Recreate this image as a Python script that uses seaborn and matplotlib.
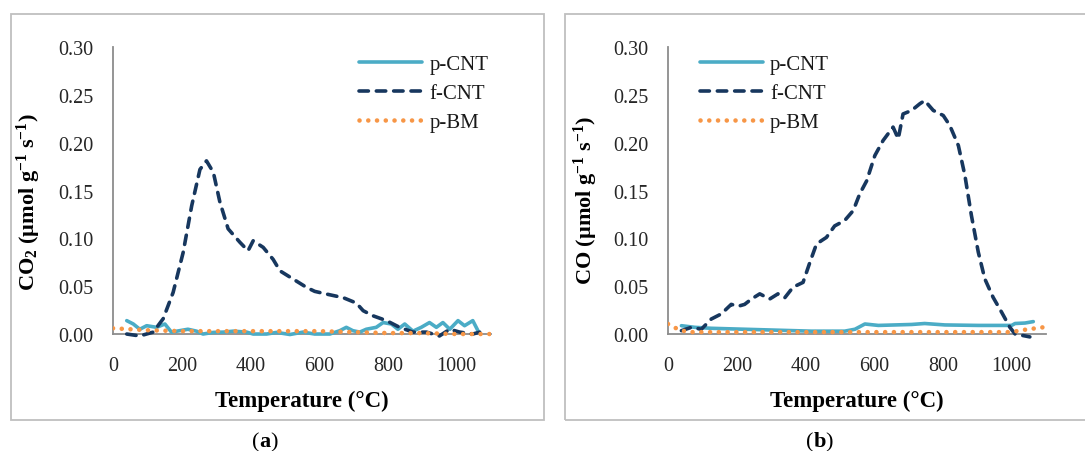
import numpy as np
import pandas as pd
import matplotlib
matplotlib.use("Agg")
import matplotlib.pyplot as plt
import seaborn as sns
from matplotlib.patches import Rectangle

# ---------------- data ----------------
# Panel (a) CO2
a_fcnt_T = [40, 78, 117, 146, 175, 204, 229, 253, 272, 292, 311, 335, 369, 393, 408, 437, 466, 486, 524,
            563, 587, 621, 670, 708, 728, 757, 796, 834, 873, 912, 950, 980, 1009, 1047, 1067]
a_fcnt_v = [0.0, -0.002, 0.002, 0.016, 0.0435, 0.085, 0.134, 0.172, 0.181, 0.169, 0.138, 0.110, 0.096, 0.087,
            0.0975, 0.0906, 0.078, 0.066, 0.0575, 0.0488, 0.0446, 0.0418, 0.038, 0.0324, 0.0244, 0.019, 0.014,
            0.007, 0.002, 0.002, -0.002, 0.005, 0.002, 0.0, 0.002]
a_pcnt_T = [40, 59, 78, 98, 127, 151, 170, 194, 218, 243, 262, 292, 321, 350, 389, 408, 447, 476, 515, 553,
            587, 611, 631, 660, 679, 698, 718, 737, 766, 786, 810, 829, 849, 873, 897, 921, 941, 960, 980,
            1004, 1023, 1047, 1062]
a_pcnt_v = [0.014, 0.0105, 0.005, 0.0087, 0.007, 0.0105, 0.002, 0.0035, 0.005, 0.003, 0.0, 0.0017, 0.002,
            0.003, 0.002, 0.0, 0.0, 0.0017, -0.0005, 0.002, 0.0, 0.0, 0.0, 0.0035, 0.007, 0.0035, 0.002, 0.005,
            0.007, 0.012, 0.0105, 0.005, 0.0105, 0.003, 0.007, 0.012, 0.007, 0.012, 0.005, 0.014, 0.0087,
            0.014, 0.0035]
a_pbm_T = [0, 50, 100, 200, 300, 400, 500, 600, 700, 800, 900, 1000, 1100]
a_pbm_v = [0.006, 0.005, 0.004, 0.003, 0.003, 0.003, 0.003, 0.003, 0.002, 0.001, 0.001, 0.0, 0.0]

# Panel (b) CO
b_fcnt_T = [39, 68, 97, 126, 155, 184, 204, 223, 243, 267, 296, 320, 340, 364, 393, 413, 432, 447, 461, 485,
            514, 539, 558, 578, 602, 626, 655, 670, 684, 709, 733, 747, 772, 801, 820, 845, 864, 883, 903,
            922, 946, 971, 995, 1010, 1039, 1053]
b_fcnt_v = [0.0035, 0.007, 0.005, 0.0157, 0.021, 0.031, 0.029, 0.031, 0.0366, 0.042, 0.0366, 0.042, 0.038,
            0.049, 0.054, 0.075, 0.094, 0.0977, 0.101, 0.113, 0.1186, 0.129, 0.1465, 0.160, 0.1866, 0.2023,
            0.2163, 0.204, 0.230, 0.2337, 0.2407, 0.244, 0.2337, 0.2284, 0.218, 0.197, 0.1657, 0.1238, 0.0855,
            0.0576, 0.0384, 0.0227, 0.007, 0.0, -0.002, -0.003]
b_pcnt_T = [39, 78, 126, 223, 320, 417, 514, 544, 573, 612, 709, 747, 806, 903, 1000, 1010, 1039, 1063]
b_pcnt_v = [0.0087, 0.007, 0.006, 0.005, 0.004, 0.003, 0.003, 0.005, 0.0105, 0.009, 0.010, 0.011, 0.0095,
            0.009, 0.009, 0.011, 0.0115, 0.013]
b_pbm_T = [0, 29, 58, 200, 400, 600, 800, 1000, 1029, 1097]
b_pbm_v = [0.0105, 0.005, 0.002, 0.002, 0.002, 0.002, 0.002, 0.002, 0.004, 0.0073]

x_ticks = [0, 200, 400, 600, 800, 1000]
y_ticks = [0.00, 0.05, 0.10, 0.15, 0.20, 0.25, 0.30]
series_names = ["p-CNT", "f-CNT", "p-BM"]
colors = {"p-CNT": "#4BACC6", "f-CNT": "#17375E", "p-BM": "#F79646"}
ylabels = [r"CO$_{2}$ (µmol g$^{-1}$ s$^{-1}$)", r"CO (µmol g$^{-1}$ s$^{-1}$)"]
xlabel = "Temperature (°C)"
panel_tags = ["a", "b"]

# ---------------- style ----------------
sns.set_theme(style="white")
plt.rcParams["font.family"] = ["Liberation Serif", "DejaVu Serif"]
plt.rcParams["mathtext.fontset"] = "custom"
plt.rcParams["mathtext.rm"] = "Liberation Serif:bold"
plt.rcParams["mathtext.it"] = "Liberation Serif:bold"
plt.rcParams["mathtext.bf"] = "Liberation Serif:bold"
plt.rcParams["mathtext.default"] = "rm"

W, H = 1085, 452
fig = plt.figure(figsize=(W / 100, H / 100), dpi=100)
fig.patch.set_facecolor("white")

# panel frames
for (x0, x1) in [(11, 544), (565, 1095)]:
    fig.patches.append(Rectangle((x0 / W, 1 - 421 / H), (x1 - x0) / W, (421 - 15) / H,
                                 transform=fig.transFigure, fill=False, edgecolor="#BFBFBF",
                                 linewidth=1.3, zorder=0))

styles = {
    "p-CNT": dict(linestyle="-", linewidth=2.6, solid_capstyle="round"),
    "f-CNT": dict(linestyle=(0, (2.6, 2.2)), linewidth=2.6, dash_capstyle="round"),
    "p-BM": dict(linestyle=(0, (0.01, 1.9)), linewidth=3.3, dash_capstyle="round"),
}

panels = [
    dict(left=113, data={"p-CNT": (a_pcnt_T, a_pcnt_v), "f-CNT": (a_fcnt_T, a_fcnt_v), "p-BM": (a_pbm_T, a_pbm_v)},
         leg_x=0.652, ylab_x=-0.222, ylab_y=0.479),
    dict(left=668, data={"p-CNT": (b_pcnt_T, b_pcnt_v), "f-CNT": (b_fcnt_T, b_fcnt_v), "p-BM": (b_pbm_T, b_pbm_v)},
         leg_x=0.085, ylab_x=-0.216, ylab_y=0.487),
]

ax_top, ax_bot = 48, 344.6
for i, p in enumerate(panels):
    ax = fig.add_axes([p["left"] / W, 1 - ax_bot / H, 378 / W, (ax_bot - ax_top) / H])
    ax.set_facecolor("none")
    for name in series_names:
        T, v = p["data"][name]
        df = pd.DataFrame({"T": T, "v": v})
        sns.lineplot(data=df, x="T", y="v", ax=ax, color=colors[name], label=name,
                     estimator=None, sort=False, **styles[name])
    ax.set_xlim(0, 1100)
    ax.set_ylim(-0.01, 0.30)
    ax.set_xticks(x_ticks)
    ax.set_yticks(y_ticks)
    ax.set_yticklabels([f"{t:.2f}" for t in y_ticks])
    for s in ["top", "right"]:
        ax.spines[s].set_visible(False)
    ax.spines["bottom"].set_position(("data", 0))
    ax.spines["left"].set_bounds(0, 0.30)
    for s in ["left", "bottom"]:
        ax.spines[s].set_color("#8C8C8C")
        ax.spines[s].set_linewidth(1.3)
        ax.spines[s].set_zorder(1)
    ax.tick_params(axis="both", which="both", direction="out", length=5, width=1.2, color="#8C8C8C",
                   labelsize=14.5, labelcolor="#262626")
    ax.tick_params(axis="y", pad=9)
    ax.tick_params(axis="x", pad=11)
    ax.set_xlabel(xlabel, fontsize=16.5, fontweight="bold", color="black")
    ax.xaxis.label.set_va("center")
    ax.xaxis.set_label_coords(0.5, -0.19)
    ax.set_ylabel(ylabels[i], fontsize=16, fontweight="bold", color="black")
    ax.yaxis.label.set_va("center")
    ax.yaxis.set_label_coords(p["ylab_x"], p["ylab_y"])
    ax.grid(False)
    leg = ax.legend(loc="upper left", bbox_to_anchor=(p["leg_x"], 0.975), frameon=False, fontsize=15,
                    handlelength=3.0, handletextpad=0.35, labelspacing=0.45, borderaxespad=0, borderpad=0)
    for t in leg.get_texts():
        t.set_color("#1a1a1a")

# panel tags "(a)" / "(b)" with bold letter
for cx, tag in [(265, "a"), (819, "b")]:
    t1 = fig.text((cx - 13) / W, 1 - 452 / H, "(", fontsize=16, va="bottom", ha="left", color="black")
    a2 = plt.annotate(tag, xy=(1, 0), xycoords=t1, va="bottom", ha="left", fontsize=16,
                      fontweight="bold", color="black", annotation_clip=False)
    plt.annotate(")", xy=(1, 0), xycoords=a2, va="bottom", ha="left", fontsize=16, color="black",
                 annotation_clip=False)

fig.savefig("out.png", dpi=100, facecolor="white")
